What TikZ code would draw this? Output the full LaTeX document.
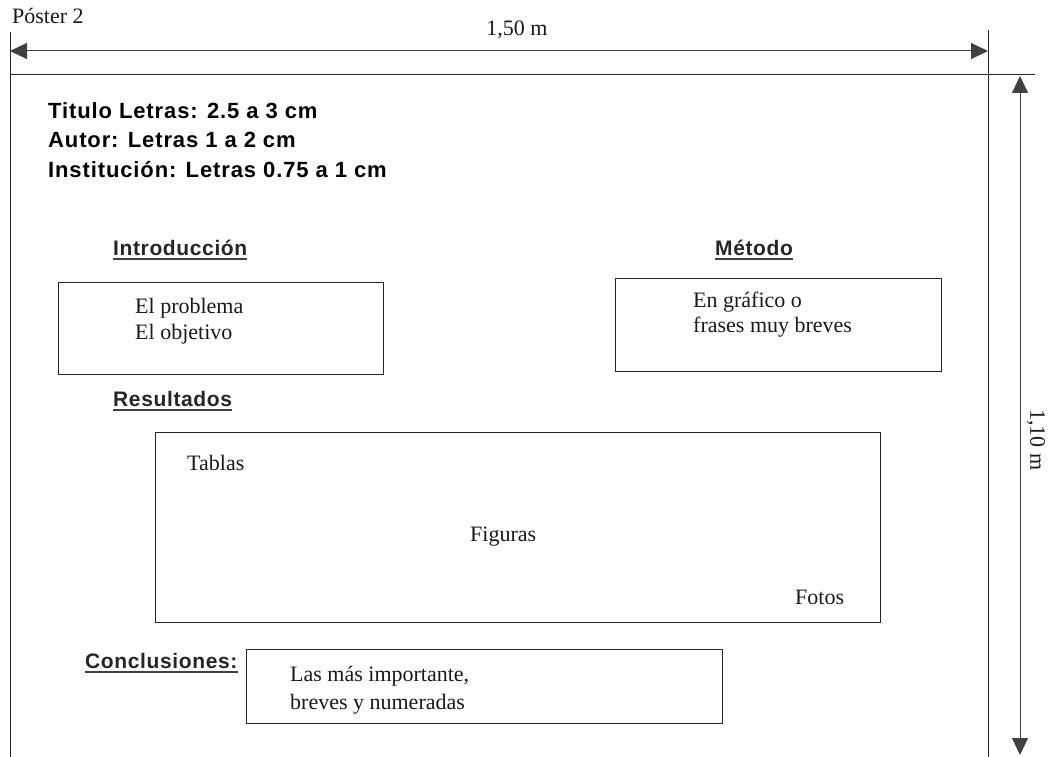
\documentclass[tikz,border=0pt]{standalone}
\usepackage{fontspec}
\setmainfont{Liberation Serif}
\setsansfont{Liberation Sans}
\usetikzlibrary{arrows.meta,positioning}

\begin{document}
\begin{tikzpicture}
	 [scale =1]
	 \tikzset{node distance =2cm,auto}
	\tikzstyle{caja}=[rectangle,draw=black!85,line width=1pt,anchor=north west,inner sep=0pt]
	\tikzstyle{texto}=[anchor=base west,inner sep=0pt,text=black!90,font=\fontsize{22}{22}\selectfont]
	\tikzstyle{datos}=[anchor=base west,inner sep=0pt,font=\sffamily\bfseries\fontsize{22}{22}\selectfont\addfontfeature{LetterSpace=4}]
	\tikzstyle{seccion}=[anchor=base west,inner sep=0pt,text=black!85,font=\sffamily\bfseries\fontsize{21}{21}\selectfont\addfontfeature{LetterSpace=3}]
	\tikzstyle{raya}=[line width=1.6pt,draw=black!75]
	\tikzstyle{linea}=[line width=1pt,draw=black!85]
	\tikzstyle{cota}=[line width=1pt,draw=black!75,{Triangle[length=17pt,width=16pt]}-{Triangle[length=17pt,width=16pt]}]
	\useasboundingbox (0 pt,0 pt) rectangle (1052 pt,-757 pt);
	\node [texto] (poster) at (12 pt,-24 pt) {Póster 2};
	\coordinate (bi1) at (10 pt,-32 pt);
	\coordinate (bi2) at (10 pt,-757 pt);
	\coordinate (bd1) at (988 pt,-30 pt);
	\coordinate (bd2) at (988 pt,-757 pt);
	\coordinate (bs1) at (10 pt,-75 pt);
	\coordinate (bs2) at (1035 pt,-75 pt);
	\draw[linea] (bi1) -- (bi2);
	\draw[linea] (bd1) -- (bd2);
	\draw[linea] (bs1) -- (bs2);
	\coordinate (ai) at (10 pt,-51 pt);
	\coordinate (ad) at (988 pt,-51 pt);
	\draw[cota] (ai) -- (ad);
	\node [texto,anchor=base] (ancho) at (517 pt,-36 pt) {1,50 m};
	\coordinate (vs) at (1020 pt,-76 pt);
	\coordinate (vb) at (1020 pt,-755 pt);
	\draw[cota] (vs) -- (vb);
	\node [texto,anchor=center,rotate=-90] (alto) at (1036 pt,-440 pt) {1,10 m};
	\node [datos] (titulo) at (48 pt,-119 pt) {Titulo Letras: 2.5 a 3 cm};
	\node [datos] (autor) at (48 pt,-148 pt) {Autor: Letras 1 a 2 cm};
	\node [datos] (inst) at (48 pt,-177 pt) {Institución: Letras 0.75 a 1 cm};
	\node [seccion] (intro) at (113 pt,-255 pt) {Introducción};
	\node [caja,minimum width=325pt,minimum height=92pt] (cintro) at (58 pt,-282 pt) {};
	\node [texto] (prob) at (135 pt,-313 pt) {El problema};
	\node [texto] (obj) at (135 pt,-339 pt) {El objetivo};
	\node [seccion] (metodo) at (715 pt,-255 pt) {Método};
	\node [caja,minimum width=326pt,minimum height=93pt] (cmetodo) at (615 pt,-278 pt) {};
	\node [texto] (graf) at (693 pt,-307 pt) {En gráfico o};
	\node [texto] (frases) at (693 pt,-332 pt) {frases muy breves};
	\node [seccion] (result) at (113 pt,-406 pt) {Resultados};
	\node [caja,minimum width=725pt,minimum height=190pt] (cresult) at (155 pt,-432 pt) {};
	\node [texto] (tablas) at (187 pt,-470 pt) {Tablas};
	\node [texto] (figuras) at (470 pt,-541 pt) {Figuras};
	\node [texto] (fotos) at (795 pt,-604 pt) {Fotos};
	\node [seccion] (concl) at (85 pt,-668 pt) {Conclusiones:};
	\node [caja,minimum width=476pt,minimum height=74pt] (cconcl) at (246 pt,-649 pt) {};
	\node [texto] (imp) at (290 pt,-681 pt) {Las más importante,};
	\node [texto] (brev) at (290 pt,-709 pt) {breves y numeradas};
	\foreach \n in {intro,metodo,result,concl}
		\draw[raya] ([yshift=-4pt]\n.base west) -- ([yshift=-4pt]\n.base east);
	\end{tikzpicture}
\end{document}
